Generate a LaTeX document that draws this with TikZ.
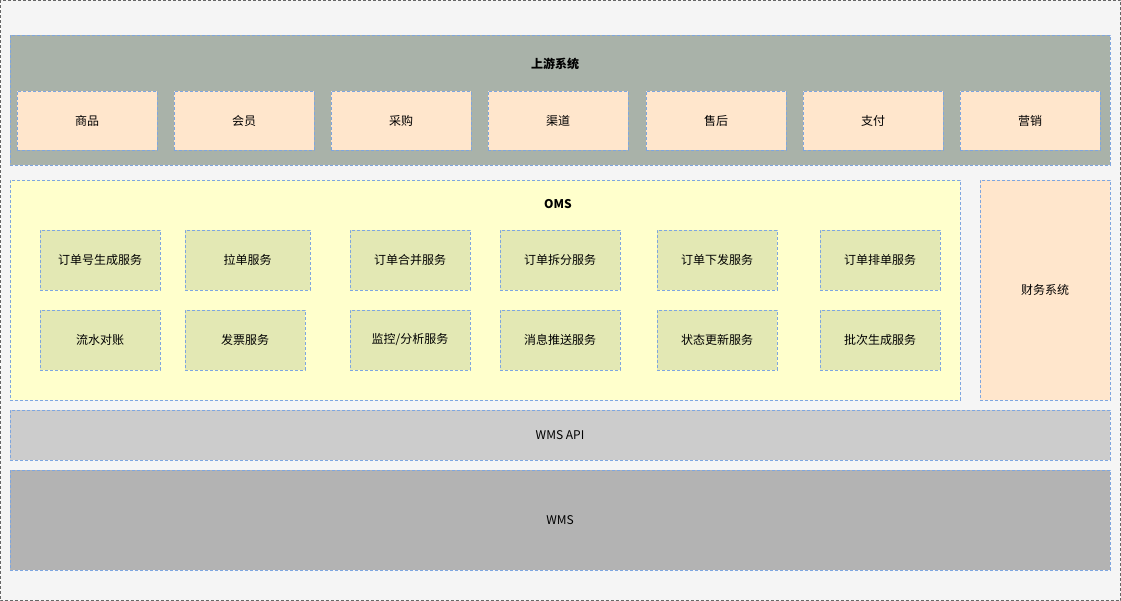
\documentclass[tikz,border=0pt]{standalone}
\usepackage{fontspec}
\setmainfont{Noto Sans CJK SC}
\begin{document}
\begin{tikzpicture}[x=1pt,y=-1pt]
\definecolor{outerbg}{HTML}{F5F5F5}
\definecolor{upbg}{HTML}{A9B2A9}
\definecolor{peach}{HTML}{FFE6CC}
\definecolor{omsbg}{HTML}{FFFFCC}
\definecolor{svcfill}{HTML}{E3E8B4}
\definecolor{apibg}{HTML}{CCCCCC}
\definecolor{wmsbg}{HTML}{B3B3B3}
\definecolor{bdr}{HTML}{7EA6E0}
\tikzset{
  box/.style={draw=bdr, dash pattern=on 3pt off 2pt, line width=0.6pt, inner sep=0pt, font=\fontsize{12}{14}\selectfont},
  up/.style={box, fill=peach},
  svc/.style={box, fill=svcfill},
  title/.style={font=\fontsize{12}{14}\selectfont\bfseries},
}
\useasboundingbox (0,0) rectangle (1121,601);
\draw[fill=outerbg, draw=gray!80!black, dash pattern=on 3pt off 2pt, line width=0.6pt] (0.5,0.5) rectangle (1120.5,600.5);
\node[box, fill=upbg, minimum width=1100pt, minimum height=130pt] (upstream) at (560,100) {};
\node[title] (uptitle) at (555,64) {上游系统};
\foreach \n/\x/\t in {a/87/商品,b/244/会员,c/401/采购,d/558/渠道,e/716/售后,f/873/支付,g/1030/营销}
  \node[up, minimum width=140pt, minimum height=59pt] (up\n) at (\x,120.5) {\t};
\node[box, fill=omsbg, minimum width=950pt, minimum height=220pt] (oms) at (485,290) {};
\node[title] (omstitle) at (558,204) {OMS};
\node[up, minimum width=130pt, minimum height=220pt] (fin) at (1045,290) {财务系统};
\foreach \n/\x/\w/\t in {a/100/120/订单号生成服务,b/247.5/125/拉单服务,c/410/120/订单合并服务,d/560/120/订单拆分服务,e/717/120/订单下发服务,f/880/120/订单排单服务}
  \node[svc, minimum width=\w pt, minimum height=60pt] (s1\n) at (\x,260) {\t};
\foreach \n/\x/\w/\t in {a/100/120/流水对账,b/245/120/发票服务,c/410/120/{监控/分析服务},d/560/120/消息推送服务,e/717/120/状态更新服务,f/880/120/批次生成服务}
  \node[svc, minimum width=\w pt, minimum height=60pt] (s2\n) at (\x,340) {\t};
\node[box, fill=apibg, minimum width=1100pt, minimum height=50pt] (api) at (560,435) {WMS API};
\node[box, fill=wmsbg, minimum width=1100pt, minimum height=100pt] (wms) at (560,520) {WMS};
\end{tikzpicture}
\end{document}
